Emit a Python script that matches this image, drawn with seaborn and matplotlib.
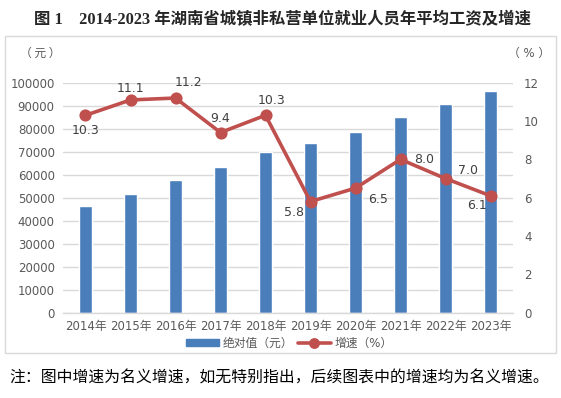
import matplotlib
matplotlib.use("Agg")
import matplotlib.pyplot as plt
import matplotlib.patches as mpatches
from matplotlib.lines import Line2D
import pandas as pd
import seaborn as sns

years = ["2014年", "2015年", "2016年", "2017年", "2018年",
         "2019年", "2020年", "2021年", "2022年", "2023年"]
wages = [46500, 51700, 57800, 63500, 70000, 73900, 78700, 85200, 90900, 96500]
growth = [10.3, 11.1, 11.2, 9.4, 10.3, 5.8, 6.5, 8.0, 7.0, 6.1]
growth_labels = ["10.3", "11.1", "11.2", "9.4", "10.3", "5.8", "6.5", "8.0", "7.0", "6.1"]

# label offsets in points (dx, dy) relative to each marker
label_offsets = [(0, -11), (0, 8), (9, 11), (0, 10), (4, 11),
                 (-12, -8), (16, -8), (17, 0), (16, 6), (-10, -7)]

sns.set_style("white")
plt.rcParams["font.family"] = ["DejaVu Sans", "Noto Sans CJK SC"]

BAR = "#4A7EBB"
RED = "#C0504D"
GRID = "#D9D9D9"
TXT = "#595959"

df = pd.DataFrame({"year": years, "wage": wages, "growth": growth})

fig = plt.figure(figsize=(5.61, 3.98), dpi=100)
ax = fig.add_axes([63 / 561, 1 - 312.7 / 398, 450 / 561, 230 / 398])

sns.barplot(data=df, x="year", y="wage", color=BAR, width=0.29,
            saturation=1, ax=ax, zorder=2)
ax.set_ylim(0, 100000)
ax.set_yticks(range(0, 100001, 10000))
ax.set_xlim(-0.5, 9.5)
ax.set_xlabel("")
ax.set_ylabel("")
ax.yaxis.grid(True, color=GRID, linewidth=1)
ax.set_axisbelow(True)
for s in ["top", "right", "left"]:
    ax.spines[s].set_visible(False)
ax.spines["bottom"].set_color(GRID)
ax.spines["bottom"].set_linewidth(1)
ax.set_xticks([i - 0.5 for i in range(11)], minor=True)
ax.tick_params(axis="x", which="minor", length=4, color=GRID, width=1)
ax.tick_params(axis="x", which="major", length=0, labelsize=8.5,
               labelcolor=TXT, pad=5)
ax.tick_params(axis="y", length=0, labelsize=8.5, labelcolor=TXT, pad=6)

ax2 = ax.twinx()
sns.pointplot(data=df, x="year", y="growth", color=RED, ax=ax2,
              markers="o", markersize=6.8, linewidth=2.6)
ax2.set_ylim(0, 12)
ax2.set_yticks(range(0, 13, 2))
ax2.set_xlim(-0.5, 9.5)
ax2.set_ylabel("")
ax2.set_xlabel("")
for s in ["top", "right", "left", "bottom"]:
    ax2.spines[s].set_visible(False)
ax2.tick_params(axis="y", length=0, labelsize=8.5, labelcolor=TXT, pad=8)
ax2.grid(False)

for i, (lab, off) in enumerate(zip(growth_labels, label_offsets)):
    ax2.annotate(lab, (i, growth[i]), xytext=off, textcoords="offset points",
                 ha="center", va="center", fontsize=9, color="#404040")

# frame around chart area
fig.patches.append(mpatches.Rectangle((5 / 561, 1 - 353 / 398), 551 / 561, 317 / 398,
                                      transform=fig.transFigure, fill=False,
                                      edgecolor="#D9D9D9", linewidth=1))

fig.text(40 / 561, 1 - 53 / 398, "（ 元 ）", ha="center", va="center",
         fontsize=8.5, color=TXT, family=["Noto Sans CJK SC"])
fig.text(529 / 561, 1 - 53 / 398, "（ % ）", ha="center", va="center",
         fontsize=8.5, color=TXT, family=["DejaVu Sans", "Noto Sans CJK SC"])

fig.text(282 / 561, 1 - 20 / 398,
         "图 1    2014-2023 年湖南省城镇非私营单位就业人员年平均工资及增速",
         ha="center", va="center", fontsize=11.8, fontweight="bold",
         family=["Liberation Serif", "Noto Sans CJK SC"])

handles = [mpatches.Patch(color=BAR, label="绝对值（元）"),
           Line2D([0], [0], color=RED, linewidth=2.6, marker="o",
                  markersize=6.8, label="增速（%）")]
leg = fig.legend(handles=handles, loc="center", bbox_to_anchor=(289 / 561, 1 - 343 / 398),
                 ncol=2, frameon=False, handlelength=2.8, handleheight=0.6,
                 handletextpad=0.3, columnspacing=0.4,
                 prop={"family": ["DejaVu Sans", "Noto Sans CJK SC"], "size": 8.5})
for t in leg.get_texts():
    t.set_color(TXT)

fig.text(279 / 561, 1 - 378 / 398,
         "注：图中增速为名义增速，如无特别指出，后续图表中的增速均为名义增速。",
         ha="center", va="center", fontsize=11.4, color="black",
         family=["Noto Sans CJK SC"])

fig.savefig("out.png", dpi=100)
